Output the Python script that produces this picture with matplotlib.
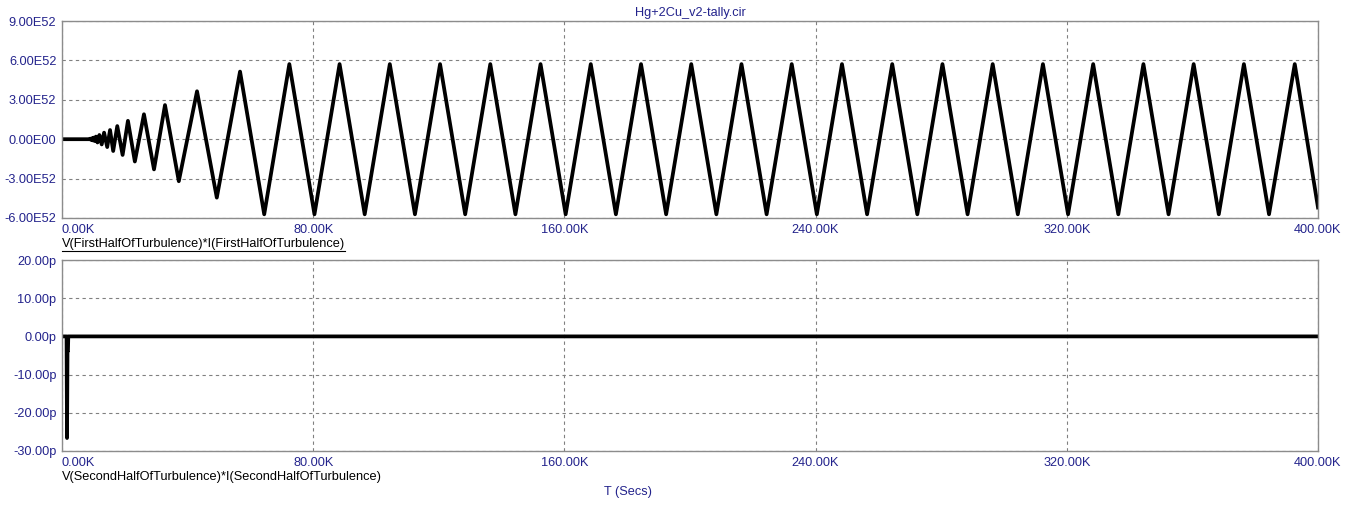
import matplotlib
matplotlib.use("Agg")
import matplotlib.pyplot as plt
from matplotlib.lines import Line2D

plt.rcParams['font.family'] = ['Liberation Sans', 'DejaVu Sans']

# top trace: V*I of first half, time in K secs, value in units of 1E52
t_first = [0, 8.6, 8.9, 9.2, 9.5, 9.8, 10.1, 10.4, 10.8, 11.3, 11.9, 12.65,
           13.4, 14.4, 15.3, 16.3, 17.6, 19.3, 21.0, 23.2, 26.1, 29.3, 32.8,
           37.2, 43.0, 49.3, 56.7, 64.4, 72.4, 80.4, 88.4, 96.4, 104.4, 112.4,
           120.4, 128.4, 136.4, 144.4, 152.4, 160.4, 168.4, 176.4, 184.4,
           192.4, 200.4, 208.4, 216.4, 224.4, 232.4, 240.4, 248.4, 256.4,
           264.4, 272.4, 280.4, 288.4, 296.4, 304.4, 312.4, 320.4, 328.4,
           336.4, 344.4, 352.4, 360.4, 368.4, 376.4, 384.4, 392.6, 400]
v_first = [0, 0, 0.04, -0.05, 0.07, -0.09, 0.12, -0.14, 0.2, -0.25, 0.32, -0.4,
           0.5, -0.6, 0.7, -0.9, 1.0, -1.2, 1.4, -1.7, 1.9, -2.3, 2.6,
           -3.2, 3.65, -4.45, 5.15, -5.72, 5.72, -5.72, 5.72, -5.72, 5.72, -5.72,
           5.72, -5.72, 5.72, -5.72, 5.72, -5.72, 5.72, -5.72, 5.72,
           -5.72, 5.72, -5.72, 5.72, -5.72, 5.72, -5.72, 5.72, -5.72,
           5.72, -5.72, 5.72, -5.72, 5.72, -5.72, 5.72, -5.72, 5.72,
           -5.72, 5.72, -5.72, 5.72, -5.72, 5.72, -5.72, 5.72, -5.2]

# bottom trace: V*I of second half, value in pico
t_second = [0, 1.45, 1.6, 1.75, 1.9, 2.0, 400]
v_second = [0, 0, -26.6, -3.8, -3.8, 0, 0]

x_ticks = [0, 80, 160, 240, 320, 400]
x_labels = ["0.00K", "80.00K", "160.00K", "240.00K", "320.00K", "400.00K"]
top_ticks = [-6, -3, 0, 3, 6, 9]
top_labels = ["-6.00E52", "-3.00E52", "0.00E00", "3.00E52", "6.00E52", "9.00E52"]
bot_ticks = [-30, -20, -10, 0, 10, 20]
bot_labels = ["-30.00p", "-20.00p", "-10.00p", "0.00p", "10.00p", "20.00p"]

blue = '#23238c'
W, H = 1353, 513
fig = plt.figure(figsize=(W / 100, H / 100), dpi=100)


def px_rect(l, t, r, b):
    return [l / W, 1 - b / H, (r - l) / W, (b - t) / H]


ax1 = fig.add_axes(px_rect(62, 21, 1318, 218))
ax2 = fig.add_axes(px_rect(62, 260, 1318, 451))

for ax, ticks, labels, lim in [(ax1, top_ticks, top_labels, (-6, 9)),
                               (ax2, bot_ticks, bot_labels, (-30, 20))]:
    ax.set_xlim(0, 400)
    ax.set_ylim(*lim)
    ax.set_xticks(x_ticks)
    ax.set_xticklabels(x_labels)
    ax.set_yticks(ticks)
    ax.set_yticklabels(labels)
    ax.tick_params(length=0, labelsize=9.2, labelcolor=blue, pad=4)
    ax.grid(True, color='#808080', linestyle=(0, (3, 3)), linewidth=0.8)
    for s in ax.spines.values():
        s.set_color('#8c8c8c')
        s.set_linewidth(1)
    ax.get_xticklabels()[0].set_horizontalalignment('left')

ax1.plot(t_first, v_first, color='black', linewidth=2.7, solid_joinstyle='round')
ax2.plot(t_second, v_second, color='black', linewidth=2.7)

fig.text(690 / W, 1 - 13 / H, "Hg+2Cu_v2-tally.cir", color=blue, fontsize=9.2,
         ha='center', va='center')
lab1 = fig.text(62 / W, 1 - 244 / H, "V(FirstHalfOfTurbulence)*I(FirstHalfOfTurbulence)",
                color='black', fontsize=9.2, ha='left', va='center')
fig.text(62 / W, 1 - 477 / H, "V(SecondHalfOfTurbulence)*I(SecondHalfOfTurbulence)",
         color='black', fontsize=9.2, ha='left', va='center')
fig.text(628 / W, 1 - 492 / H, "T (Secs)", color=blue, fontsize=9.2,
         ha='center', va='center')

# underline the first trace label
fig.canvas.draw()
bb = lab1.get_window_extent()
fig.add_artist(Line2D([bb.x0 / W, bb.x1 / W], [(bb.y0 - 1) / H, (bb.y0 - 1) / H],
                      color='black', linewidth=0.8, transform=fig.transFigure))

fig.savefig("out.png", dpi=100)
